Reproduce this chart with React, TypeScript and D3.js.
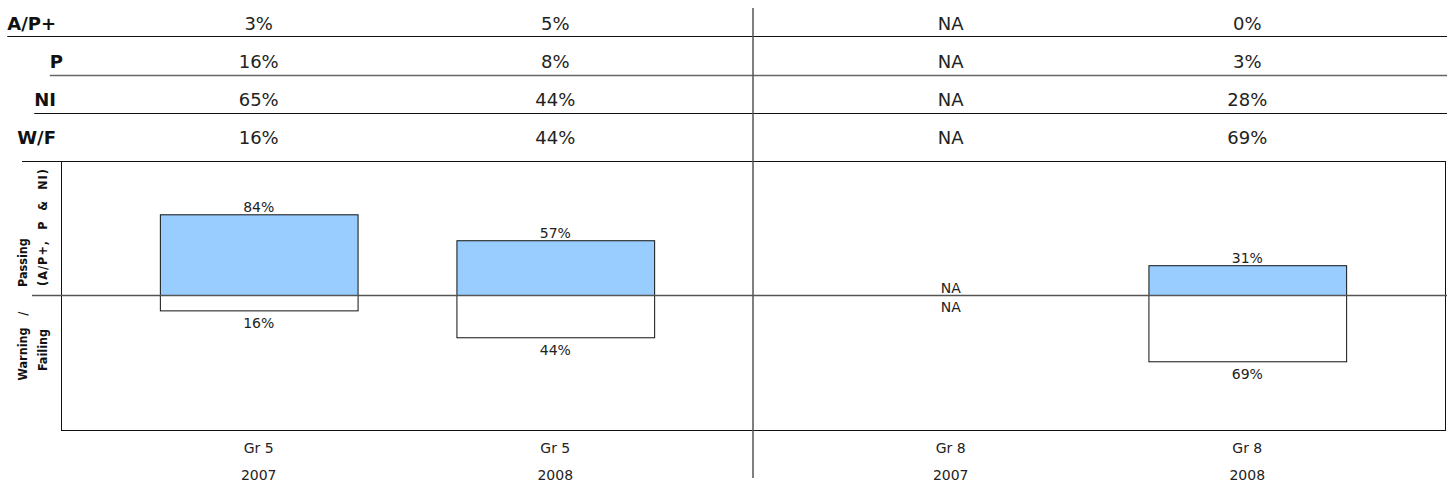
import React, { useEffect, useRef } from 'react';
import * as d3 from 'd3';

// table + chart data
const grades = ['Gr 5', 'Gr 8'];
const years = ['2007', '2008'];
const columns = [
  { grade: 'Gr 5', year: '2007' },
  { grade: 'Gr 5', year: '2008' },
  { grade: 'Gr 8', year: '2007' },
  { grade: 'Gr 8', year: '2008' },
];
const rowLabels = ['A/P+', 'P', 'NI', 'W/F'];
const apPlus = [3, 5, null, 0];
const proficient = [16, 8, null, 3];
const needsImprovement = [65, 44, null, 28];
const warningFailing = [16, 44, null, 69];
const passing = [84, 57, null, 31];
const failing = [16, 44, null, 69];

const tableRows = [apPlus, proficient, needsImprovement, warningFailing];
const FONT = '"DejaVu Sans", Verdana, sans-serif';
const COND = '"DejaVu Sans Condensed", "DejaVu Sans", sans-serif';
const fmt = (v: number | null) => (v == null ? 'NA' : `${v}%`);

export default function App() {
  const ref = useRef<SVGSVGElement>(null);

  useEffect(() => {
    if (!ref.current) return;
    document.body.style.margin = '0';
    const svg = d3.select(ref.current);
    svg.selectAll('*').remove();

    const W = 1447;
    const left = 61, right = 1445, top = 161, bottom = 430;

    const gx = d3.scaleBand().domain(grades).range([left, right]).padding(0);
    const yx = d3.scaleBand().domain(years).range([0, gx.bandwidth()])
      .paddingInner(1 / 3).paddingOuter(1 / 3);
    const cx = (i: number) => gx(columns[i].grade)! + yx(columns[i].year)!;
    const y = d3.scaleLinear().domain([-140, 140]).range([bottom, top]);

    // ---- table on top
    const rowBase = [30, 68, 106, 144];
    const rowLine = [36, 75, 113, top];
    const labelRight = [56, 63, 56, 56];

    rowLabels.forEach((lab, r) => {
      const t = svg.append('text')
        .attr('x', labelRight[r]).attr('y', rowBase[r])
        .attr('text-anchor', 'end')
        .style('font-family', FONT).style('font-weight', 'bold')
        .style('font-size', '18px').style('fill', '#111')
        .text(lab);
      const w = (t.node() as SVGTextElement).getComputedTextLength();
      const x0 = r === 3 ? 22 : labelRight[r] - w;
      svg.append('line')
        .attr('x1', x0).attr('x2', r === 3 ? right : W)
        .attr('y1', rowLine[r] + 0.5).attr('y2', rowLine[r] + 0.5)
        .attr('stroke', r === 1 ? '#666' : '#111')
        .attr('stroke-width', r === 1 ? 1.5 : 1);

      tableRows[r].forEach((v, i) => {
        svg.append('text')
          .attr('x', cx(i) + yx.bandwidth() / 2).attr('y', rowBase[r])
          .attr('text-anchor', 'middle')
          .style('font-family', FONT).style('font-size', '18px').style('fill', '#222')
          .text(fmt(v));
      });
    });

    // ---- plot frame
    svg.append('line').attr('x1', left + 0.5).attr('x2', left + 0.5).attr('y1', top).attr('y2', bottom)
      .attr('stroke', '#111');
    svg.append('line').attr('x1', right + 0.5).attr('x2', right + 0.5).attr('y1', top).attr('y2', bottom)
      .attr('stroke', '#111');
    svg.append('line').attr('x1', left).attr('x2', right + 1).attr('y1', bottom + 0.5).attr('y2', bottom + 0.5)
      .attr('stroke', '#111');

    // bars
    columns.forEach((c, i) => {
      const x0 = cx(i);
      const bw = yx.bandwidth();
      const p = passing[i];
      const f = failing[i];
      if (p != null) {
        svg.append('rect')
          .attr('x', x0 + 0.5).attr('y', y(p)).attr('width', bw).attr('height', y(0) - y(p))
          .attr('fill', '#99CCFF').attr('stroke', '#111').attr('stroke-width', 1);
      }
      if (f != null) {
        svg.append('rect')
          .attr('x', x0 + 0.5).attr('y', y(0)).attr('width', bw).attr('height', y(-f) - y(0))
          .attr('fill', '#fff').attr('stroke', '#111').attr('stroke-width', 1);
      }
      svg.append('text')
        .attr('x', x0 + bw / 2).attr('y', y(p ?? 0) - 3)
        .attr('text-anchor', 'middle')
        .style('font-family', FONT).style('font-size', '14px').style('fill', '#222')
        .text(fmt(p));
      svg.append('text')
        .attr('x', x0 + bw / 2).attr('y', y(-(f ?? 0)) + (f == null ? 16 : 17))
        .attr('text-anchor', 'middle')
        .style('font-family', FONT).style('font-size', '14px').style('fill', '#222')
        .text(fmt(f));

      // category labels
      svg.append('text')
        .attr('x', x0 + bw / 2).attr('y', 453)
        .attr('text-anchor', 'middle')
        .style('font-family', FONT).style('font-size', '14px').style('fill', '#222')
        .style('white-space', 'pre')
        .text(c.grade);
      svg.append('text')
        .attr('x', x0 + bw / 2).attr('y', 480)
        .attr('text-anchor', 'middle')
        .style('font-family', FONT).style('font-size', '14px').style('fill', '#222')
        .text(c.year);
    });

    // zero line
    svg.append('line').attr('x1', 32).attr('x2', W).attr('y1', y(0)).attr('y2', y(0))
      .attr('stroke', '#555').attr('stroke-width', 1.5);

    // grade divider
    const divX = gx('Gr 8')!;
    svg.append('line').attr('x1', divX).attr('x2', divX).attr('y1', 8).attr('y2', 478)
      .attr('stroke', '#555').attr('stroke-width', 1.5);

    // y labels
    const yLab = (txt: string, x: number, yy: number, anchor: string, len?: number) => {
      const t = svg.append('text')
        .attr('transform', `translate(${x},${yy}) rotate(-90)`)
        .attr('text-anchor', anchor)
        .style('font-family', COND).style('font-weight', 'bold')
        .style('font-size', '12.5px').style('fill', '#111')
        .style('white-space', 'pre')
        .text(txt);
      if (len) t.attr('textLength', len).attr('lengthAdjust', 'spacing');
    };
    yLab('Passing', 27, 287, 'start');
    yLab('(A/P+,  P  &  NI)', 47, 286, 'start', 117);
    yLab('Warning   /', 27, 346, 'middle');
    yLab('Failing', 47, 350, 'middle');
  }, []);

  return (
    <svg ref={ref} width={1447} height={483}
      style={{ position: 'absolute', left: 0, top: 0, background: '#fff' }} />
  );
}
